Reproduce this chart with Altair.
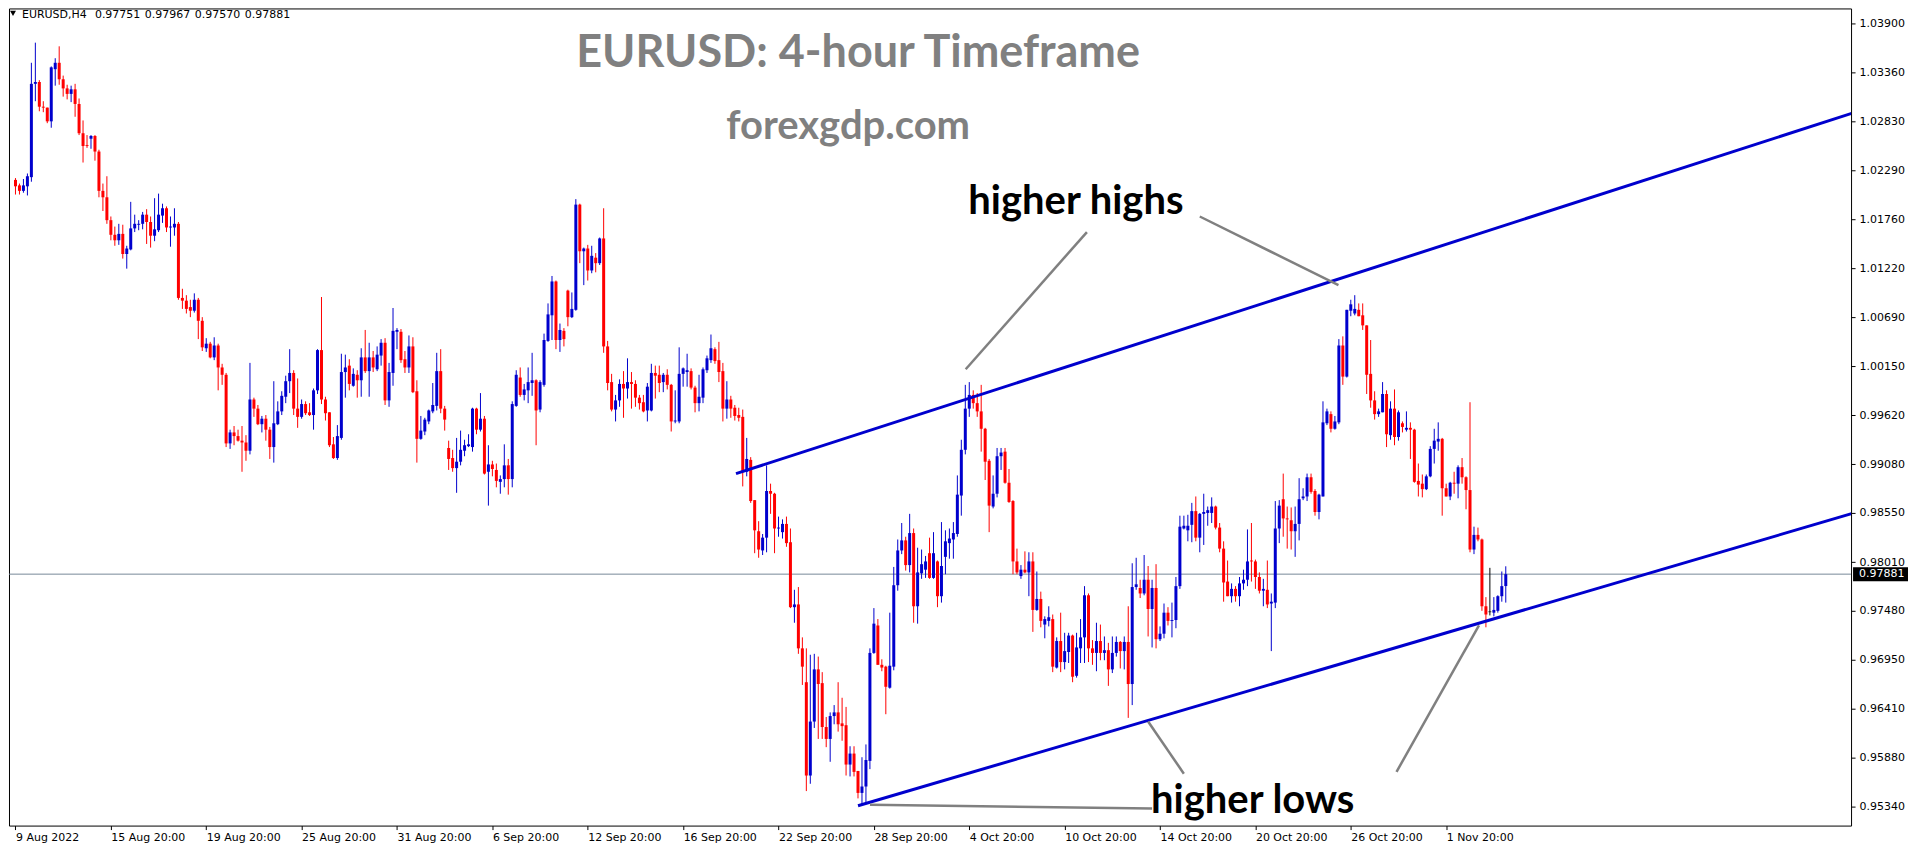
import altair as alt
import pandas as pd

# ---------------- data ----------------
O = [
 1.0219, 1.0213, 1.0207, 1.0212, 1.0222, 1.0324, 1.0326, 1.0299, 1.0298, 1.0283,
 1.0340, 1.0347, 1.0329, 1.0319, 1.0313, 1.0318, 1.0302, 1.0270, 1.0257, 1.0264,
 1.0267, 1.0250, 1.0207, 1.0200, 1.0175, 1.0159, 1.0153, 1.0160, 1.0138, 1.0143,
 1.0166, 1.0170, 1.0171, 1.0181, 1.0173, 1.0158, 1.0164, 1.0180, 1.0188, 1.0167,
 1.0167, 1.0171, 1.0090, 1.0087, 1.0080, 1.0076, 1.0088, 1.0065, 1.0035, 1.0040,
 1.0025, 1.0038, 1.0014, 1.0006, 0.9931, 0.9943, 0.9939, 0.9934, 0.9932, 0.9923,
 0.9979, 0.9969, 0.9952, 0.9958, 0.9946, 0.9927, 0.9952, 0.9966, 0.9982, 0.9999,
 1.0008, 0.9969, 0.9960, 0.9974, 0.9965, 0.9962, 0.9989, 1.0033, 0.9979, 0.9965,
 0.9930, 0.9915, 0.9937, 1.0009, 1.0016, 0.9994, 1.0006, 1.0000, 1.0025, 1.0010,
 1.0025, 1.0012, 1.0027, 1.0041, 0.9978, 1.0008, 1.0053, 1.0053, 1.0023, 1.0014,
 1.0037, 0.9988, 0.9936, 0.9944, 0.9955, 0.9966, 0.9972, 1.0010, 0.9969, 0.9926,
 0.9915, 0.9904, 0.9911, 0.9923, 0.9928, 0.9927, 0.9969, 0.9946, 0.9958, 0.9900,
 0.9908, 0.9902, 0.9889, 0.9892, 0.9907, 0.9892, 0.9972, 1.0003, 0.9984, 0.9989,
 0.9997, 1.0000, 0.9968, 0.9995, 1.0043, 1.0071, 1.0108, 1.0044, 1.0054, 1.0098,
 1.0069, 1.0077, 1.0192, 1.0141, 1.0144, 1.0120, 1.0134, 1.0128, 1.0155, 1.0037,
 0.9998, 0.9968, 0.9978, 0.9996, 0.9991, 0.9998, 0.9996, 0.9981, 0.9976, 0.9967,
 0.9967, 1.0008, 1.0006, 0.9998, 1.0006, 0.9995, 0.9955, 0.9955, 1.0007, 1.0009,
 1.0010, 0.9992, 0.9975, 0.9981, 1.0011, 1.0022, 1.0034, 1.0022, 1.0010, 0.9969,
 0.9979, 0.9970, 0.9962, 0.9960, 0.9900, 0.9913, 0.9869, 0.9835, 0.9814, 0.9828,
 0.9879, 0.9876, 0.9838, 0.9834, 0.9843, 0.9823, 0.9752, 0.9755, 0.9707, 0.9670,
 0.9568, 0.9627, 0.9684, 0.9669, 0.9621, 0.9608, 0.9633, 0.9637, 0.9625, 0.9623,
 0.9580, 0.9592, 0.9573, 0.9549, 0.9556, 0.9584, 0.9702, 0.9732, 0.9689, 0.9687,
 0.9664, 0.9687, 0.9776, 0.9814, 0.9825, 0.9798, 0.9833, 0.9753, 0.9789, 0.9793,
 0.9811, 0.9784, 0.9802, 0.9764, 0.9807, 0.9822, 0.9826, 0.9832, 0.9874, 0.9924,
 0.9969, 0.9984, 0.9975, 0.9966, 0.9947, 0.9912, 0.9862, 0.9876, 0.9917, 0.9922,
 0.9888, 0.9868, 0.9802, 0.9786, 0.9793, 0.9790, 0.9802, 0.9749, 0.9761, 0.9733,
 0.9737, 0.9739, 0.9686, 0.9715, 0.9692, 0.9703, 0.9721, 0.9677, 0.9707, 0.9719,
 0.9765, 0.9707, 0.9702, 0.9715, 0.9702, 0.9705, 0.9684, 0.9702, 0.9714, 0.9704,
 0.9714, 0.9668, 0.9774, 0.9773, 0.9767, 0.9782, 0.9750, 0.9773, 0.9717, 0.9723,
 0.9746, 0.9737, 0.9738, 0.9775, 0.9838, 0.9836, 0.9842, 0.9857, 0.9828, 0.9854,
 0.9855, 0.9855, 0.9862, 0.9839, 0.9816, 0.9780, 0.9764, 0.9772, 0.9764, 0.9778,
 0.9782, 0.9803, 0.9802, 0.9785, 0.9770, 0.9771, 0.9756, 0.9757, 0.9838, 0.9870,
 0.9849, 0.9847, 0.9835, 0.9843, 0.9871, 0.9873, 0.9894, 0.9879, 0.9856, 0.9873,
 0.9953, 0.9963, 0.9947, 0.9954, 1.0038, 1.0004, 1.0076, 1.0073, 1.0077, 1.0071,
 1.0060, 1.0007, 0.9978, 0.9963, 0.9965, 0.9985, 0.9940, 0.9969, 0.9938, 0.9953,
 0.9946, 0.9948, 0.9946, 0.9890, 0.9887, 0.9881, 0.9895, 0.9925, 0.9933, 0.9936,
 0.9882, 0.9873, 0.9888, 0.9887, 0.9905, 0.9894, 0.9880, 0.9815, 0.9831, 0.9826,
 0.9753, 0.9747, 0.9746, 0.9748, 0.9764, 0.97751,
]
H = [
 1.0221, 1.0215, 1.0220, 1.0226, 1.0347, 1.0369, 1.0328, 1.0305, 1.0298, 1.0343,
 1.0352, 1.0365, 1.0333, 1.0323, 1.0322, 1.0324, 1.0308, 1.0284, 1.0268, 1.0268,
 1.0268, 1.0252, 1.0215, 1.0223, 1.0179, 1.0168, 1.0171, 1.0170, 1.0147, 1.0195,
 1.0181, 1.0175, 1.0184, 1.0187, 1.0179, 1.0199, 1.0204, 1.0193, 1.0190, 1.0179,
 1.0188, 1.0173, 1.0100, 1.0093, 1.0088, 1.0095, 1.0090, 1.0069, 1.0046, 1.0042,
 1.0047, 1.0040, 1.0018, 1.0008, 0.9946, 0.9950, 0.9946, 0.9950, 0.9940, 1.0019,
 0.9981, 0.9973, 0.9961, 0.9962, 0.9949, 0.9999, 0.9977, 0.9988, 1.0005, 1.0034,
 1.0011, 1.0002, 0.9979, 0.9977, 0.9975, 0.9991, 1.0034, 1.0091, 0.9982, 0.9965,
 0.9938, 0.9951, 1.0029, 1.0028, 1.0023, 1.0013, 1.0011, 1.0035, 1.0055, 1.0041,
 1.0032, 1.0037, 1.0045, 1.0046, 1.0019, 1.0079, 1.0057, 1.0056, 1.0032, 1.0049,
 1.0047, 1.0000, 0.9961, 0.9959, 0.9968, 0.9997, 1.0030, 1.0034, 0.9972, 0.9934,
 0.9924, 0.9937, 0.9945, 0.9935, 0.9941, 0.9970, 0.9970, 0.9986, 0.9961, 0.9929,
 0.9912, 0.9909, 0.9896, 0.9930, 0.9914, 0.9977, 1.0011, 1.0014, 0.9996, 1.0014,
 1.0030, 1.0001, 1.0000, 1.0051, 1.0084, 1.0114, 1.0109, 1.0062, 1.0057, 1.0099,
 1.0096, 1.0198, 1.0193, 1.0145, 1.0148, 1.0147, 1.0139, 1.0156, 1.0188, 1.0043,
 1.0007, 0.9984, 1.0001, 1.0010, 1.0024, 1.0009, 1.0000, 0.9984, 0.9984, 0.9997,
 1.0018, 1.0016, 1.0016, 1.0008, 1.0012, 0.9996, 0.9989, 1.0036, 1.0014, 1.0029,
 1.0013, 0.9994, 1.0006, 1.0014, 1.0027, 1.0050, 1.0036, 1.0042, 1.0019, 0.9999,
 0.9983, 0.9973, 0.9970, 0.9968, 0.9937, 0.9916, 0.9869, 0.9846, 0.9832, 0.9907,
 0.9887, 0.9877, 0.9851, 0.9848, 0.9851, 0.9838, 0.9771, 0.9774, 0.9719, 0.9707,
 0.9700, 0.9701, 0.9698, 0.9681, 0.9632, 0.9637, 0.9645, 0.9670, 0.9653, 0.9643,
 0.9600, 0.9600, 0.9573, 0.9588, 0.9602, 0.9707, 0.9751, 0.9739, 0.9695, 0.9688,
 0.9746, 0.9796, 0.9826, 0.9844, 0.9829, 0.9854, 0.9838, 0.9817, 0.9815, 0.9808,
 0.9828, 0.9834, 0.9803, 0.9845, 0.9836, 0.9838, 0.9845, 0.9896, 0.9935, 0.9995,
 0.9998, 0.9989, 0.9986, 0.9995, 0.9948, 0.9914, 0.9896, 0.9926, 0.9926, 0.9926,
 0.9903, 0.9869, 0.9816, 0.9798, 0.9813, 0.9812, 0.9812, 0.9791, 0.9769, 0.9742,
 0.9753, 0.9744, 0.9719, 0.9746, 0.9724, 0.9724, 0.9722, 0.9724, 0.9739, 0.9775,
 0.9767, 0.9716, 0.9735, 0.9733, 0.9720, 0.9713, 0.9720, 0.9720, 0.9715, 0.9720,
 0.9753, 0.9800, 0.9806, 0.9782, 0.9809, 0.9797, 0.9782, 0.9799, 0.9731, 0.9756,
 0.9752, 0.9757, 0.9785, 0.9852, 0.9852, 0.9853, 0.9866, 0.9873, 0.9855, 0.9876,
 0.9862, 0.9872, 0.9863, 0.9844, 0.9824, 0.9803, 0.9778, 0.9775, 0.9785, 0.9793,
 0.9837, 0.9844, 0.9804, 0.9790, 0.9783, 0.9803, 0.9767, 0.9868, 0.9869, 0.9898,
 0.9862, 0.9861, 0.9862, 0.9893, 0.9882, 0.9898, 0.9898, 0.9881, 0.9876, 0.9977,
 0.9969, 0.9966, 0.9961, 1.0045, 1.0048, 1.0077, 1.0088, 1.0093, 1.0084, 1.0084,
 1.0060, 1.0044, 0.9988, 0.9969, 0.9998, 0.9989, 0.9977, 0.9990, 0.9967, 0.9955,
 0.9966, 0.9954, 0.9947, 0.9909, 0.9897, 0.9897, 0.9928, 0.9947, 0.9954, 0.9937,
 0.9887, 0.9889, 0.9900, 0.9907, 0.9915, 0.9895, 0.9976, 0.9840, 0.9839, 0.9827,
 0.9763, 0.9795, 0.9763, 0.9765, 0.9791, 0.97967,
]
L = [
 1.0203, 1.0203, 1.0205, 1.0202, 1.0217, 1.0305, 1.0294, 1.0293, 1.0281, 1.0276,
 1.0322, 1.0323, 1.0310, 1.0307, 1.0304, 1.0288, 1.0268, 1.0238, 1.0254, 1.0253,
 1.0240, 1.0200, 1.0185, 1.0171, 1.0153, 1.0147, 1.0148, 1.0133, 1.0122, 1.0142,
 1.0162, 1.0164, 1.0165, 1.0149, 1.0145, 1.0152, 1.0162, 1.0172, 1.0162, 1.0146,
 1.0158, 1.0088, 1.0078, 1.0073, 1.0069, 1.0074, 1.0045, 1.0032, 1.0031, 1.0024,
 1.0022, 0.9989, 0.9995, 0.9927, 0.9925, 0.9929, 0.9933, 0.9900, 0.9912, 0.9919,
 0.9960, 0.9951, 0.9943, 0.9934, 0.9914, 0.9910, 0.9951, 0.9962, 0.9975, 0.9986,
 0.9962, 0.9948, 0.9958, 0.9962, 0.9961, 0.9946, 0.9985, 0.9974, 0.9956, 0.9927,
 0.9914, 0.9913, 0.9935, 0.9981, 0.9989, 0.9993, 0.9981, 0.9982, 1.0008, 0.9982,
 1.0009, 1.0010, 1.0016, 0.9973, 0.9971, 0.9994, 1.0034, 1.0019, 1.0008, 1.0008,
 0.9986, 0.9910, 0.9935, 0.9940, 0.9952, 0.9964, 0.9967, 0.9964, 0.9945, 0.9902,
 0.9900, 0.9877, 0.9907, 0.9917, 0.9927, 0.9922, 0.9941, 0.9944, 0.9897, 0.9863,
 0.9895, 0.9883, 0.9876, 0.9883, 0.9875, 0.9883, 0.9971, 0.9982, 0.9978, 0.9975,
 0.9983, 0.9929, 0.9965, 0.9993, 1.0042, 1.0044, 1.0034, 1.0031, 1.0037, 1.0059,
 1.0068, 1.0076, 1.0128, 1.0104, 1.0109, 1.0117, 1.0118, 1.0126, 1.0030, 0.9989,
 0.9966, 0.9955, 0.9971, 0.9959, 0.9980, 0.9969, 0.9971, 0.9968, 0.9965, 0.9955,
 0.9966, 0.9980, 0.9987, 0.9987, 0.9990, 0.9944, 0.9953, 0.9953, 0.9993, 0.9993,
 0.9990, 0.9965, 0.9966, 0.9975, 1.0008, 1.0019, 1.0018, 0.9998, 0.9955, 0.9958,
 0.9959, 0.9956, 0.9955, 0.9884, 0.9895, 0.9866, 0.9811, 0.9806, 0.9809, 0.9812,
 0.9854, 0.9811, 0.9829, 0.9827, 0.9818, 0.9751, 0.9735, 0.9701, 0.9667, 0.9551,
 0.9559, 0.9620, 0.9608, 0.9608, 0.9599, 0.9583, 0.9624, 0.9616, 0.9606, 0.9568,
 0.9567, 0.9567, 0.9543, 0.9537, 0.9538, 0.9575, 0.9701, 0.9689, 0.9682, 0.9635,
 0.9663, 0.9683, 0.9770, 0.9810, 0.9792, 0.9790, 0.9735, 0.9734, 0.9783, 0.9784,
 0.9783, 0.9783, 0.9752, 0.9757, 0.9788, 0.9805, 0.9805, 0.9829, 0.9852, 0.9919,
 0.9960, 0.9969, 0.9960, 0.9922, 0.9891, 0.9834, 0.9860, 0.9872, 0.9902, 0.9887,
 0.9866, 0.9788, 0.9788, 0.9783, 0.9789, 0.9764, 0.9725, 0.9748, 0.9730, 0.9718,
 0.9731, 0.9681, 0.9685, 0.9681, 0.9684, 0.9691, 0.9670, 0.9675, 0.9691, 0.9691,
 0.9692, 0.9689, 0.9682, 0.9694, 0.9694, 0.9666, 0.9680, 0.9698, 0.9685, 0.9684,
 0.9631, 0.9645, 0.9771, 0.9762, 0.9765, 0.9720, 0.9708, 0.9707, 0.9715, 0.9718,
 0.9732, 0.9719, 0.9729, 0.9772, 0.9837, 0.9824, 0.9823, 0.9824, 0.9812, 0.9820,
 0.9841, 0.9844, 0.9837, 0.9812, 0.9758, 0.9764, 0.9757, 0.9758, 0.9753, 0.9771,
 0.9775, 0.9780, 0.9772, 0.9767, 0.9753, 0.9751, 0.9704, 0.9751, 0.9822, 0.9829,
 0.9816, 0.9815, 0.9807, 0.9825, 0.9869, 0.9868, 0.9876, 0.9852, 0.9848, 0.9873,
 0.9951, 0.9943, 0.9946, 0.9952, 0.9995, 1.0003, 1.0070, 1.0071, 1.0070, 1.0055,
 0.9985, 0.9970, 0.9957, 0.9960, 0.9965, 0.9927, 0.9935, 0.9929, 0.9934, 0.9943,
 0.9944, 0.9914, 0.9888, 0.9873, 0.9872, 0.9880, 0.9894, 0.9909, 0.9923, 0.9852,
 0.9873, 0.9869, 0.9876, 0.9871, 0.9887, 0.9859, 0.9812, 0.9810, 0.9824, 0.9748,
 0.9730, 0.9743, 0.9742, 0.9746, 0.9758, 0.97570,
]
C = [
 1.0212, 1.0207, 1.0213, 1.0223, 1.0324, 1.0326, 1.0299, 1.0298, 1.0283, 1.0342,
 1.0347, 1.0329, 1.0319, 1.0313, 1.0318, 1.0302, 1.0270, 1.0256, 1.0256, 1.0267,
 1.0250, 1.0207, 1.0200, 1.0175, 1.0159, 1.0153, 1.0160, 1.0138, 1.0144, 1.0166,
 1.0171, 1.0171, 1.0181, 1.0173, 1.0158, 1.0165, 1.0181, 1.0188, 1.0167, 1.0168,
 1.0171, 1.0090, 1.0087, 1.0078, 1.0076, 1.0088, 1.0065, 1.0036, 1.0040, 1.0025,
 1.0038, 1.0014, 1.0006, 0.9931, 0.9943, 0.9939, 0.9934, 0.9932, 0.9923, 0.9979,
 0.9969, 0.9952, 0.9958, 0.9946, 0.9927, 0.9953, 0.9966, 0.9983, 0.9999, 1.0008,
 0.9969, 0.9960, 0.9974, 0.9964, 0.9962, 0.9989, 1.0033, 0.9979, 0.9964, 0.9929,
 0.9915, 0.9939, 1.0009, 1.0014, 0.9996, 1.0007, 1.0000, 1.0025, 1.0010, 1.0025,
 1.0014, 1.0028, 1.0041, 0.9978, 1.0009, 1.0054, 1.0055, 1.0022, 1.0014, 1.0037,
 0.9987, 0.9936, 0.9945, 0.9957, 0.9967, 0.9973, 1.0010, 0.9969, 0.9957, 0.9914,
 0.9904, 0.9911, 0.9924, 0.9929, 0.9930, 0.9969, 0.9946, 0.9958, 0.9898, 0.9908,
 0.9903, 0.9890, 0.9892, 0.9907, 0.9892, 0.9974, 1.0006, 0.9984, 0.9990, 0.9998,
 1.0000, 0.9967, 0.9998, 1.0044, 1.0072, 1.0108, 1.0044, 1.0055, 1.0045, 1.0069,
 1.0078, 1.0192, 1.0141, 1.0144, 1.0120, 1.0136, 1.0128, 1.0155, 1.0037, 0.9997,
 0.9968, 0.9978, 0.9996, 0.9991, 0.9998, 0.9996, 0.9981, 0.9975, 0.9966, 0.9993,
 1.0008, 1.0005, 0.9997, 1.0006, 0.9995, 0.9955, 0.9956, 1.0007, 1.0013, 1.0011,
 0.9992, 0.9975, 0.9982, 1.0012, 1.0024, 1.0035, 1.0021, 1.0009, 0.9969, 0.9979,
 0.9969, 0.9961, 0.9959, 0.9900, 0.9914, 0.9868, 0.9836, 0.9815, 0.9828, 0.9879,
 0.9876, 0.9838, 0.9839, 0.9843, 0.9822, 0.9752, 0.9755, 0.9707, 0.9687, 0.9568,
 0.9627, 0.9684, 0.9668, 0.9621, 0.9608, 0.9633, 0.9637, 0.9624, 0.9622, 0.9580,
 0.9592, 0.9572, 0.9549, 0.9556, 0.9585, 0.9702, 0.9734, 0.9689, 0.9686, 0.9665,
 0.9688, 0.9776, 0.9814, 0.9825, 0.9798, 0.9833, 0.9753, 0.9790, 0.9799, 0.9802,
 0.9784, 0.9811, 0.9764, 0.9797, 0.9824, 0.9827, 0.9833, 0.9875, 0.9924, 0.9969,
 0.9984, 0.9975, 0.9966, 0.9947, 0.9911, 0.9863, 0.9876, 0.9917, 0.9921, 0.9888,
 0.9867, 0.9802, 0.9790, 0.9793, 0.9790, 0.9802, 0.9749, 0.9761, 0.9737, 0.9739,
 0.9741, 0.9687, 0.9715, 0.9692, 0.9704, 0.9721, 0.9676, 0.9708, 0.9719, 0.9765,
 0.9707, 0.9702, 0.9715, 0.9702, 0.9705, 0.9684, 0.9702, 0.9714, 0.9704, 0.9714,
 0.9668, 0.9774, 0.9777, 0.9767, 0.9782, 0.9750, 0.9773, 0.9717, 0.9723, 0.9746,
 0.9737, 0.9738, 0.9775, 0.9840, 0.9841, 0.9841, 0.9857, 0.9828, 0.9854, 0.9856,
 0.9858, 0.9862, 0.9839, 0.9816, 0.9779, 0.9764, 0.9772, 0.9764, 0.9778, 0.9782,
 0.9802, 0.9802, 0.9785, 0.9770, 0.9772, 0.9755, 0.9758, 0.9838, 0.9863, 0.9849,
 0.9848, 0.9835, 0.9843, 0.9870, 0.9873, 0.9894, 0.9878, 0.9856, 0.9875, 0.9954,
 0.9966, 0.9947, 0.9955, 1.0038, 1.0004, 1.0077, 1.0083, 1.0078, 1.0070, 1.0060,
 1.0006, 0.9978, 0.9963, 0.9966, 0.9985, 0.9941, 0.9969, 0.9938, 0.9965, 0.9949,
 0.9948, 0.9946, 0.9889, 0.9886, 0.9881, 0.9895, 0.9925, 0.9934, 0.9936, 0.9882,
 0.9873, 0.9888, 0.9887, 0.9905, 0.9894, 0.9880, 0.9815, 0.9831, 0.9826, 0.9753,
 0.9744, 0.9747, 0.9749, 0.9764, 0.9775, 0.97881,
]

x_tick_bars = [0, 24, 48, 72, 96, 120, 144, 168, 192, 216, 240, 264, 288, 312, 336, 360]
x_tick_labels = ["9 Aug 2022", "15 Aug 20:00", "19 Aug 20:00", "25 Aug 20:00",
                 "31 Aug 20:00", "6 Sep 20:00", "12 Sep 20:00", "16 Sep 20:00",
                 "22 Sep 20:00", "28 Sep 20:00", "4 Oct 20:00", "10 Oct 20:00",
                 "14 Oct 20:00", "20 Oct 20:00", "26 Oct 20:00", "1 Nov 20:00"]
y_tick_values = [1.03900, 1.03360, 1.02830, 1.02290, 1.01760, 1.01220, 1.00690,
                 1.00150, 0.99620, 0.99080, 0.98550, 0.98010, 0.97480, 0.96950,
                 0.96410, 0.95880, 0.95340]

last_price = [0.97881]
header_words = ["EURUSD,H4", "0.97751", "0.97967", "0.97570", "0.97881"]

# channel lines (bar index, price)
channel_id = ["upper", "upper", "lower", "lower"]
channel_x = [181.3, 462.25, 212.0, 462.25]
channel_y = [0.9898, 1.0292, 0.9535, 0.98545]

# grey pointer lines (bar index, price)
pointer_id = ["hh1", "hh1", "hh2", "hh2", "hl1", "hl1", "hl2", "hl2", "hl3", "hl3"]
pointer_x = [239.1, 269.6, 298.0, 332.9, 285.0, 294.0, 347.5, 368.25, 215.0, 286.0]
pointer_y = [1.0012, 1.0162, 1.0179, 1.0104, 0.9627, 0.9570, 0.9572, 0.9732, 0.9536, 0.9532]

# ---------------- chart ----------------
W, HGT = 1844, 818
n = len(O)
assert len(H) == n and len(L) == n and len(C) == n

candles = pd.DataFrame({"i": list(range(n)), "o": O, "h": H, "l": L, "c": C})
candles["dir"] = ["up" if c > o else ("down" if c < o else "doji") for o, c in zip(O, C)]
doji = candles[candles["dir"] == "doji"]

channels = pd.DataFrame({"id": channel_id, "x": channel_x, "y": channel_y})
pointers = pd.DataFrame({"id": pointer_id, "x": pointer_x, "y": pointer_y})
price_df = pd.DataFrame({"p": last_price, "t": ["%.5f" % last_price[0]]})

xscale = alt.Scale(domain=[-0.375, 460.625], nice=False, zero=False)
yscale = alt.Scale(domain=[0.95133, 1.04064], nice=False, zero=False)
cscale = alt.Scale(domain=["up", "down", "doji"], range=["#0000CD", "#FF0000", "#000000"])

label_expr = "[" + ",".join("'%s'" % s for s in x_tick_labels) + "][round(datum.value/24)]"
xaxis = alt.Axis(values=x_tick_bars, labelExpr=label_expr, grid=False, domain=False,
                 ticks=True, tickSize=4, tickColor="black", labelColor="black",
                 labelFont="DejaVu Sans", labelFontSize=11, labelAlign="left",
                 labelBaseline="top", labelPadding=2, labelFlush=False,
                 labelOverlap=False, title=None)
yaxis = alt.Axis(orient="right", values=y_tick_values, format=".5f", grid=False,
                 domain=False, ticks=True, tickSize=4, tickColor="black",
                 labelColor="black", labelFont="DejaVu Sans", labelFontSize=11,
                 labelPadding=4, labelOverlap=False, labelFlush=False, title=None)

X = lambda f: alt.X(f, scale=xscale, axis=xaxis, title=None)
Y = lambda f: alt.Y(f, scale=yscale, axis=yaxis, title=None)

price_line = alt.Chart(price_df).mark_rule(color="#778899", strokeWidth=1).encode(
    y=Y("p:Q"), x=alt.value(0), x2=alt.value(W))

wicks = alt.Chart(candles).mark_rule(strokeWidth=1).encode(
    x=X("i:Q"), y=Y("l:Q"), y2="h:Q",
    color=alt.Color("dir:N", scale=cscale, legend=None))

bodies = alt.Chart(candles).mark_bar(size=3).encode(
    x=X("i:Q"), y=Y("o:Q"), y2="c:Q",
    color=alt.Color("dir:N", scale=cscale, legend=None))

doji_ticks = alt.Chart(doji).mark_tick(orient="horizontal", size=3, thickness=1,
                                       color="#000000").encode(x=X("i:Q"), y=Y("o:Q"))

channel_lines = alt.Chart(channels).mark_line(color="#0000CD", strokeWidth=3, clip=True).encode(
    x=X("x:Q"), y=Y("y:Q"), detail="id:N")

pointer_lines = alt.Chart(pointers).mark_line(color="#808080", strokeWidth=2.5).encode(
    x=X("x:Q"), y=Y("y:Q"), detail="id:N")

def label(txt, x, y, size, color, font="Lato", weight="bold", align="center"):
    return alt.Chart(pd.DataFrame({"t": [txt]})).mark_text(
        font=font, fontSize=size, fontWeight=weight, color=color, align=align,
        baseline="alphabetic").encode(text="t:N", x=alt.value(x), y=alt.value(y))

title1 = label("EURUSD: 4-hour Timeframe", 850, 59, 45, "#808080")
title2 = label("forexgdp.com", 840, 131, 40, "#808080")
hh = label("higher highs", 1068, 206, 40, "#000000")
hl = label("higher lows", 1245, 805, 40, "#000000")

# header: symbol and OHLC of the last bar, each word placed left to right
header_x = [13, 86, 136, 186, 236]
header = alt.Chart(pd.DataFrame({"t": header_words, "hx": header_x})).mark_text(
    font="DejaVu Sans", fontSize=11, color="black", align="left", baseline="middle"
).encode(text="t:N", x=alt.X("hx:Q", scale=None), y=alt.value(6.5))
tri = alt.Chart(pd.DataFrame({"t": ["v"]})).mark_point(
    shape="triangle-down", filled=True, size=35, color="black", opacity=1
).encode(x=alt.value(4), y=alt.value(5))

price_box = alt.Chart(price_df).mark_tick(orient="horizontal", size=55, thickness=14,
                                          color="black", opacity=1).encode(
    y=Y("p:Q"), x=alt.value(W + 29.5))
price_txt = alt.Chart(price_df).mark_text(font="DejaVu Sans", fontSize=11, color="white",
                                          align="left", baseline="middle").encode(
    y=Y("p:Q"), x=alt.value(W + 8), text="t:N")

chart = alt.layer(
    price_line, wicks, bodies, doji_ticks, channel_lines, pointer_lines,
    title1, title2, hh, hl, header, tri, price_box, price_txt
).properties(width=W, height=HGT, padding=0, background="white").configure_view(
    stroke="black", strokeWidth=1)

chart.save("out.html", embed_options={"renderer": "svg", "actions": False})
